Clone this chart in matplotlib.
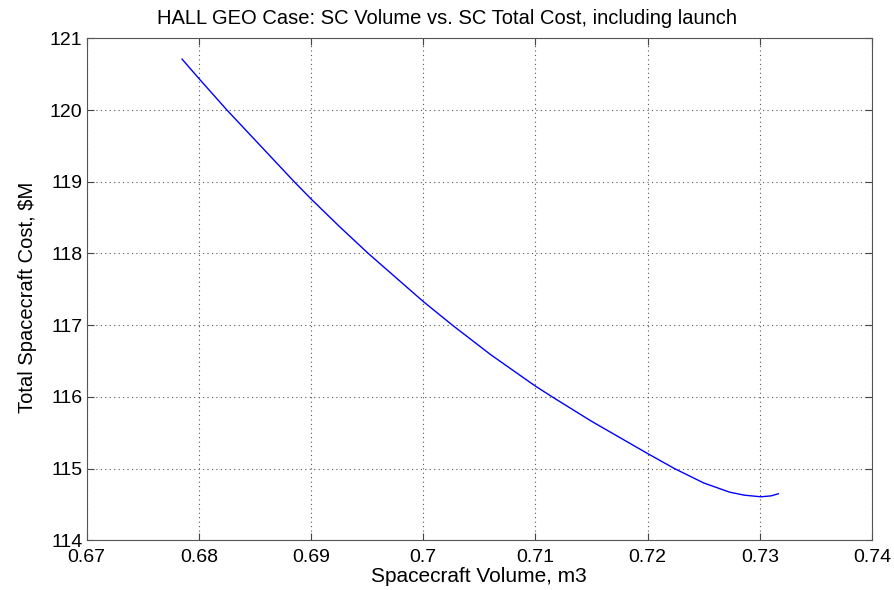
import matplotlib
matplotlib.use("Agg")
import matplotlib.pyplot as plt

# spacecraft volume (m3) and total cost including launch ($M)
volume = [0.6785, 0.6800, 0.6825, 0.6885, 0.6900, 0.6925, 0.6951, 0.7000,
          0.7026, 0.7060, 0.7100, 0.7115, 0.7150, 0.7200, 0.7224, 0.7250,
          0.7273, 0.7286, 0.7301, 0.7310, 0.73165]
cost = [120.71, 120.44, 120.00, 119.00, 118.76, 118.38, 118.00, 117.33,
        117.00, 116.59, 116.15, 116.00, 115.66, 115.21, 115.00, 114.80,
        114.672, 114.63, 114.607, 114.62, 114.649]

x_ticks = [0.67, 0.68, 0.69, 0.70, 0.71, 0.72, 0.73, 0.74]
x_labels = ["0.67", "0.68", "0.69", "0.7", "0.71", "0.72", "0.73", "0.74"]
y_ticks = [114, 115, 116, 117, 118, 119, 120, 121]

plt.rcParams['font.family'] = ['Liberation Sans', 'DejaVu Sans']

fig = plt.figure(figsize=(8.95, 5.9), dpi=100)
ax = fig.add_axes([0.0969, 0.0842, 0.8774, 0.8508])

ax.plot(volume, cost, color="blue", linewidth=1.0)

ax.set_xlim(0.67, 0.74)
ax.set_ylim(114, 121)
ax.set_xticks(x_ticks)
ax.set_xticklabels(x_labels)
ax.set_yticks(y_ticks)
ax.tick_params(direction="in", top=True, right=True, length=5,
               labelsize=14, color="#444444")
ax.tick_params(axis="x", pad=6)
ax.tick_params(axis="y", pad=3)
ax.grid(True, linestyle=(0, (1, 3)), color="#555555", linewidth=0.8)
for sp in ax.spines.values():
    sp.set_color("#555555")

ax.set_title("HALL GEO Case: SC Volume vs. SC Total Cost, including launch",
             fontsize=14.5, pad=10, x=0.459)
ax.set_xlabel("Spacecraft Volume, m3", fontsize=15, labelpad=1)
ax.set_ylabel("Total Spacecraft Cost, \\$M", fontsize=14.5, labelpad=9)
ax.yaxis.label.set_y(0.484)

fig.savefig("out.png", dpi=100)
